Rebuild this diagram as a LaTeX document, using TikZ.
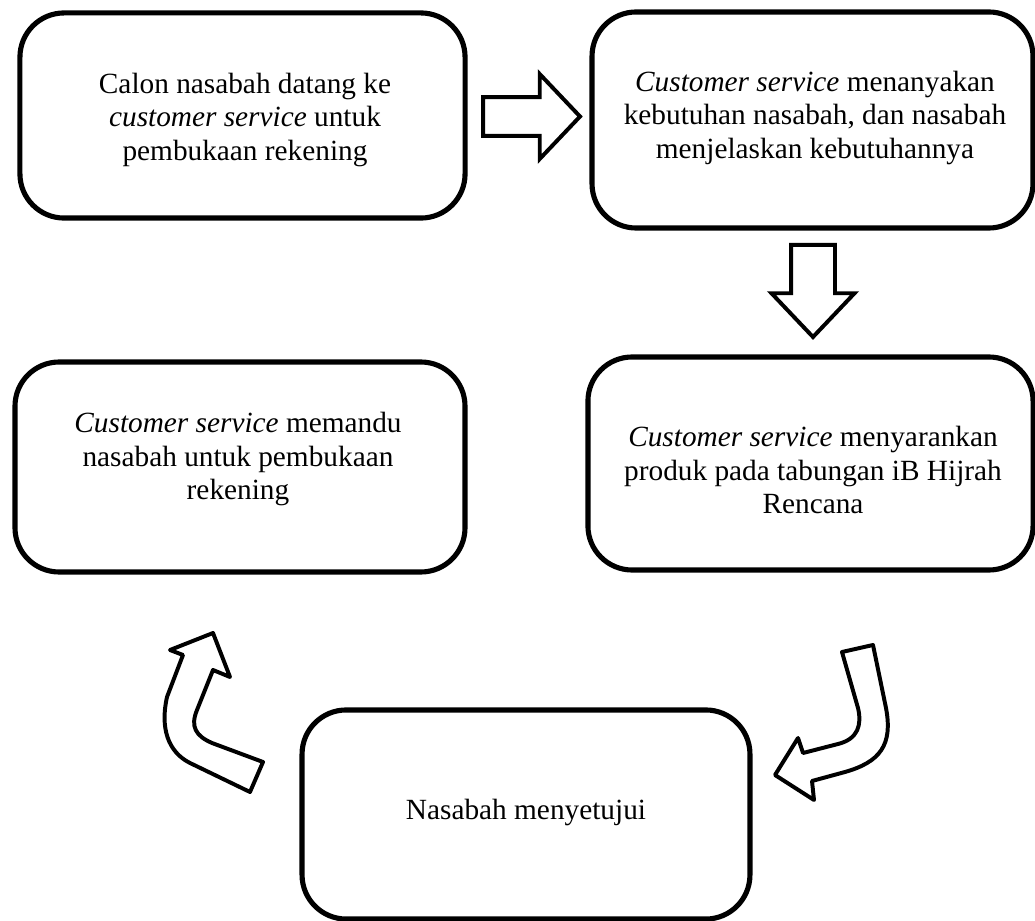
\documentclass[tikz,border=0pt]{standalone}
\usepackage{fontspec}
\setmainfont{Liberation Serif}
\usetikzlibrary{shapes.arrows}
\begin{document}
\begin{tikzpicture}[x=0.43pt,y=-0.43pt,
  box/.style={draw, rectangle, line width=2.2pt, rounded corners=19pt, inner sep=0pt},
  txt/.style={align=center, inner sep=0pt, font=\fontsize{12.6}{14.4}\selectfont},
  blockarrow/.style={single arrow, draw, fill=white, line width=1.7pt, inner xsep=0pt,
    outer sep=0pt, minimum width=0pt},
  bendarrow/.style={draw, fill=white, line width=1.7pt, line join=round}]
\useasboundingbox (0,0) rectangle (1035,921);

% process boxes
\node[box, minimum width=191.4pt, minimum height=88.2pt] (b1) at (242.5,115.5) {};
\node[box, minimum width=189.6pt, minimum height=92.9pt] (b2) at (812.5,120) {};
\node[box, minimum width=191.4pt, minimum height=91.6pt] (b4) at (810.5,463.5) {};
\node[box, minimum width=193.5pt, minimum height=90.3pt] (b3) at (240,467) {};
\node[box, minimum width=192.6pt, minimum height=89.9pt] (b5) at (526,814.5) {};

% box texts
\node[txt] (t1) at (245,120) {Calon nasabah datang ke\\\textit{customer service} untuk\\pembukaan rekening};
\node[txt] (t2) at (815,118) {\textit{Customer service} menanyakan\\kebutuhan nasabah, dan nasabah\\menjelaskan kebutuhannya};
\node[txt] (t4) at (813,470) {\textit{Customer service} menyarankan\\produk pada tabungan iB Hijrah\\Rencana};
\node[txt] (t3) at (238,459) {\textit{Customer service} memandu\\nasabah untuk pembukaan\\rekening};
\node[txt] (t5) at (526,812) {Nasabah menyetujui};

% straight block arrows
\node[blockarrow, anchor=tip, inner ysep=7.5pt, single arrow head extend=9.9pt,
      single arrow tip angle=93, minimum height=41.7pt] (a12) at (580,116.5) {};
\node[blockarrow, rotate=-90, anchor=tip, inner ysep=8.6pt, single arrow head extend=8.4pt,
      single arrow tip angle=87, minimum height=39.6pt] (a24) at (813,337) {};

% bent arrow from the right box down to the bottom box
\draw[bendarrow] (842,652) -- (873,645) -- (886,708)
  .. controls (893,745) and (880,762) .. (845,772) -- (812,781)
  -- (814,800) -- (775,775) -- (798,738) -- (803,753)
  -- (838,744) .. controls (858,739) and (862,725) .. (858,708) -- cycle;

% bent arrow from the bottom box up to the left box
\draw[bendarrow] (213,633) -- (230,677) -- (213,670) -- (197,710)
  .. controls (190,727) and (196,736) .. (212,743) -- (263,762)
  -- (250,792) -- (190,763)
  .. controls (168,752) and (160,728) .. (167,697) -- (183,655)
  -- (170,650) -- cycle;
\end{tikzpicture}
\end{document}
